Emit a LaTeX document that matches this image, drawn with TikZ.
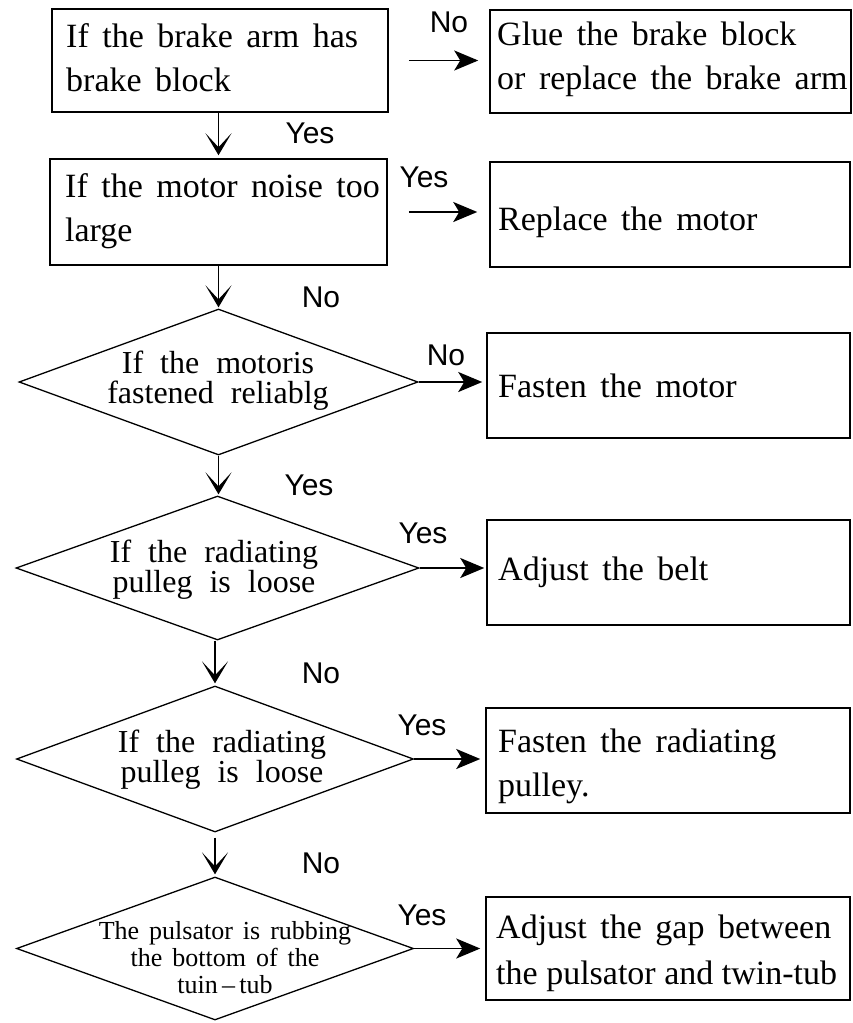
\documentclass[tikz,border=0pt]{standalone}
\usepackage{fontspec}
\setmainfont{Liberation Serif}
\newfontfamily\labfont{Liberation Sans}
\usetikzlibrary{shapes.geometric,arrows.meta}
\newcommand\bsp{\spaceskip=13.5pt plus 2pt minus 2pt\relax}
\newcommand\tsp{\spaceskip=8.5pt plus 2pt minus 2pt\relax}
\newcommand\dsp{\spaceskip=17pt plus 2pt minus 2pt\relax}
\newcommand\psp{\spaceskip=10pt plus 2pt minus 2pt\relax}
\begin{document}
\begin{tikzpicture}[x=1pt,y=-1pt,
  box/.style={draw,line width=1.5pt,inner sep=0pt},
  dia/.style={draw,diamond,line width=1.3pt,inner sep=0pt},
  btext/.style={inner sep=0pt,align=left,anchor=west,font=\fontsize{34}{44}\selectfont},
  dtext/.style={inner sep=0pt,align=center,font=\fontsize{32}{30}\selectfont},
  ptext/.style={inner sep=0pt,align=center,font=\fontsize{26}{27}\selectfont},
  lab/.style={inner sep=0pt,font=\labfont\fontsize{30}{30}\selectfont},
  rarr/.style={line width=1.9pt,-{Stealth[length=24pt,width=20pt,inset=6pt]}},
  darr/.style={line width=1.9pt,-{Stealth[length=22pt,width=26pt,inset=14pt]}},
]
\useasboundingbox[fill=white] (0,0) rectangle (853,1023);

% boxes
\node[box,minimum width=336pt,minimum height=103pt] (b1) at (220,60.5) {};
\node[btext] (b1t) at (66,57.4) {\bsp If the brake arm has\\\bsp brake block};
\node[box,minimum width=361pt,minimum height=103pt] (b2) at (670.5,61.5) {};
\node[btext] (b2t) at (497,59) {\bsp Glue the brake block\\\bsp or replace the brake arm};
\node[box,minimum width=337pt,minimum height=106pt] (b3) at (218.5,212) {};
\node[btext] (b3t) at (65,211) {\bsp If the motor noise too\\\bsp large};
\node[box,minimum width=360pt,minimum height=105pt] (b4) at (670,214.5) {};
\node[btext] (b4t) at (498,222) {\bsp Replace the motor};
\node[box,minimum width=363pt,minimum height=105pt] (b5) at (668.5,385.5) {};
\node[btext] (b5t) at (498,385.4) {\bsp Fasten the motor};
\node[box,minimum width=363pt,minimum height=105pt] (b6) at (668.5,572.5) {};
\node[btext] (b6t) at (498,572) {\bsp Adjust the belt};
\node[box,minimum width=364pt,minimum height=105pt] (b7) at (668,760.5) {};
\node[btext] (b7t) at (498,766) {\bsp Fasten the radiating\\\bsp pulley.};
\node[box,minimum width=364pt,minimum height=103pt] (b8) at (668,948.5) {};
\node[btext,font=\fontsize{34}{46}\selectfont] (b8t) at (496,953) {\bsp Adjust the gap between\\\tsp the pulsator and twin-tub};

% diamonds
\node[dia,minimum width=399pt,minimum height=146pt] (d1) at (218.5,382) {};
\node[dtext] (d1t) at (218,381) {\dsp If the motoris\\\dsp fastened reliablg};
\node[dia,minimum width=403pt,minimum height=144pt] (d2) at (217.5,568) {};
\node[dtext] (d2t) at (214,570) {\dsp If the radiating\\\dsp pulleg is loose};
\node[dia,minimum width=397pt,minimum height=146pt] (d3) at (215,759) {};
\node[dtext] (d3t) at (222,760) {\dsp If the radiating\\\dsp pulleg is loose};
\node[dia,minimum width=397pt,minimum height=143pt] (d4) at (215,948.5) {};
\node[ptext] (d4t) at (225,958) {\psp The pulsator is rubbing\\\psp the bottom of the\\\psp tuin\,–\,tub};

% right arrows
\draw[rarr,shorten <=20pt,shorten >=11pt] (b1.east) -- (b1.east -| b2.west);
\draw[rarr,shorten <=21pt,shorten >=12pt] (b3.east) -- (b3.east -| b4.west);
\draw[rarr,shorten >=4pt] (d1.east) -- (d1.east -| b5.west);
\draw[rarr,shorten >=2pt] (d2.east) -- (d2.east -| b6.west);
\draw[rarr,shorten >=5pt] (d3.east) -- (d3.east -| b7.west);
\draw[rarr,shorten >=5pt] (d4.east) -- (d4.east -| b8.west);

% down arrows
\draw[darr,shorten >=3pt] (b1.south -| b3.north) -- (b3.north);
\draw[darr,shorten >=1pt] (b3.south) -- (b3.south |- d1.north);
\draw[darr,shorten >=1pt] (d1.south) -- (d1.south |- d2.north);
\draw[darr,shorten >=2pt] (d2.south -| d3.north) -- (d3.north);
\draw[darr,shorten <=5pt,shorten >=2pt] (d3.south) -- (d4.north);

% labels
\node[lab] (l1) at (449,22) {No};
\node[lab] (l2) at (310,133) {Yes};
\node[lab] (l3) at (424,177) {Yes};
\node[lab] (l4) at (321,297) {No};
\node[lab] (l5) at (446,355) {No};
\node[lab] (l6) at (309,485) {Yes};
\node[lab] (l7) at (423,533) {Yes};
\node[lab] (l8) at (321,673) {No};
\node[lab] (l9) at (422,725) {Yes};
\node[lab] (l10) at (321,863) {No};
\node[lab] (l11) at (422,915) {Yes};
\end{tikzpicture}
\end{document}
